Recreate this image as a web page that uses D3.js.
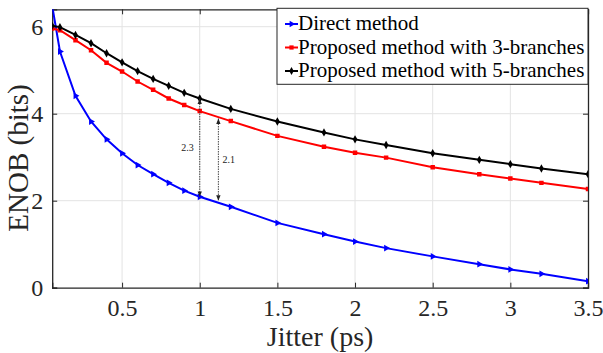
<!DOCTYPE html>
<html>
<head>
<meta charset="utf-8">
<script src="https://cdn.jsdelivr.net/npm/d3@7"></script>
<style>
  body { margin: 0; background: #fff; }
  text { font-family: "Liberation Serif", "Times New Roman", serif; }
</style>
</head>
<body>
<script>
// jitter values (ps)
var jitter = [0.05, 0.1, 0.2, 0.3, 0.4, 0.5, 0.6, 0.7, 0.8, 0.9, 1.0,
              1.2, 1.5, 1.8, 2.0, 2.2, 2.5, 2.8, 3.0, 3.2, 3.5];
var direct   = [6.48, 5.43, 4.41, 3.82, 3.41, 3.09, 2.82, 2.61, 2.41, 2.23, 2.09,
                1.86, 1.49, 1.23, 1.06, 0.91, 0.72, 0.54, 0.42, 0.32, 0.15];
var branch3  = [5.96, 5.92, 5.69, 5.46, 5.17, 4.97, 4.74, 4.55, 4.35, 4.20, 4.06,
                3.83, 3.49, 3.24, 3.10, 2.99, 2.77, 2.61, 2.51, 2.41, 2.27];
var branch5  = [6.02, 5.99, 5.81, 5.62, 5.39, 5.18, 4.98, 4.80, 4.64, 4.48, 4.35,
                4.11, 3.82, 3.57, 3.41, 3.28, 3.09, 2.94, 2.84, 2.74, 2.61];
var seriesNames = ["Direct method", "Proposed method with 3-branches", "Proposed method with 5-branches"];
var xTicks = [0.5, 1, 1.5, 2, 2.5, 3, 3.5];
var yTicks = [0, 2, 4, 6];
// gap annotations: [x, top, bottom, label]
var gaps = [[1.0, 4.35, 2.09, "2.3"], [1.12, 3.89, 2.0, "2.1"]];

var w = 603, h = 353;
var pl = 52.2, pr = 588, pt = 9.3, pb = 287.7;

var svg = d3.select("body").append("svg")
  .attr("width", w)
  .attr("height", h);

var x = d3.scaleLinear().domain([0.05, 3.5]).range([pl, pr]);
var y = d3.scaleLinear().domain([0, 6.4]).range([pb, pt]);

/* ===== GRID ===== */
svg.append("g").selectAll("line")
  .data(xTicks.filter(function(d){ return d < 3.5; }))
  .enter().append("line")
  .attr("x1", function(d){ return x(d); }).attr("x2", function(d){ return x(d); })
  .attr("y1", pt).attr("y2", pb)
  .attr("stroke", "#e3e3e3").attr("stroke-width", 1);
svg.append("g").selectAll("line")
  .data(yTicks.filter(function(d){ return d > 0; }))
  .enter().append("line")
  .attr("x1", pl).attr("x2", pr)
  .attr("y1", function(d){ return y(d); }).attr("y2", function(d){ return y(d); })
  .attr("stroke", "#e3e3e3").attr("stroke-width", 1);

/* ===== AXES ===== */
var axisColor = "#262626";
var plain = function(d){ return d; };
var xAxis = d3.axisBottom(x).tickValues(xTicks).tickSize(-5).tickPadding(11)
  .tickFormat(plain);
var yAxis = d3.axisLeft(y).tickValues(yTicks).tickSize(-5).tickPadding(9)
  .tickFormat(plain);

function styleAxis(g) {
  g.select(".domain").attr("stroke", axisColor).attr("stroke-width", 1.3);
  g.selectAll(".tick line").attr("stroke", axisColor).attr("stroke-width", 1);
  g.selectAll(".tick text").attr("fill", "#262626")
    .attr("font-size", "24px")
    .style("font-family", '"Liberation Serif", "Times New Roman", serif');
}

svg.append("g").attr("transform", "translate(0," + pb + ")")
  .call(xAxis).call(styleAxis);
svg.append("g").attr("transform", "translate(" + pl + ",0)")
  .call(yAxis).call(styleAxis);
// top and right box with inward ticks
svg.append("g").attr("transform", "translate(0," + pt + ")")
  .call(d3.axisTop(x).tickValues(xTicks).tickSize(-5).tickFormat(""))
  .call(styleAxis);
svg.append("g").attr("transform", "translate(" + pr + ",0)")
  .call(d3.axisRight(y).tickValues(yTicks).tickSize(-5).tickFormat(""))
  .call(styleAxis);

/* ===== AXIS LABELS ===== */
svg.append("text")
  .attr("x", (pl + pr) / 2)
  .attr("y", 346)
  .attr("text-anchor", "middle")
  .attr("font-size", "28px")
  .attr("fill", "#262626")
  .text("Jitter (ps)");

svg.append("text")
  .attr("transform", "translate(28,158) rotate(-90)")
  .attr("text-anchor", "middle")
  .attr("font-size", "29px")
  .attr("fill", "#262626")
  .text("ENOB (bits)");

/* ===== LINES ===== */
svg.append("clipPath").attr("id", "plotclip")
  .append("rect").attr("x", pl).attr("y", pt)
  .attr("width", pr - pl).attr("height", pb - pt);

var series = [
  { name: seriesNames[0], values: direct,  color: "#0000ff", sym: d3.symbolTriangle, rot: 90 },
  { name: seriesNames[1], values: branch3, color: "#ff0000", sym: d3.symbolSquare,   rot: 0 },
  { name: seriesNames[2], values: branch5, color: "#000000", sym: d3.symbolDiamond,  rot: 0 }
];

var line = d3.line()
  .x(function(d){ return x(d[0]); })
  .y(function(d){ return y(d[1]); });

var plot = svg.append("g").attr("clip-path", "url(#plotclip)");

series.forEach(function(s) {
  var pts = jitter.map(function(j, i){ return [j, s.values[i]]; });
  plot.append("path")
    .datum(pts)
    .attr("fill", "none")
    .attr("stroke", s.color)
    .attr("stroke-width", 2)
    .attr("d", line);
  plot.selectAll(null)
    .data(pts)
    .enter().append("path")
    .attr("d", d3.symbol().type(s.sym).size(20))
    .attr("transform", function(d){
      return "translate(" + x(d[0]) + "," + y(d[1]) + ") rotate(" + s.rot + ")";
    })
    .attr("fill", s.color);
});

/* ===== GAP ANNOTATIONS ===== */
var defs = svg.append("defs");
defs.append("marker").attr("id", "arr")
  .attr("viewBox", "0 0 10 10").attr("refX", 10).attr("refY", 5)
  .attr("markerWidth", 6).attr("markerHeight", 6)
  .attr("orient", "auto-start-reverse")
  .append("path").attr("d", "M0,1 L10,5 L0,9 Z").attr("fill", "#222");

var gapG = svg.append("g");
gaps.forEach(function(g, i) {
  gapG.append("line")
    .attr("x1", x(g[0])).attr("x2", x(g[0]))
    .attr("y1", y(g[1])).attr("y2", y(g[2]))
    .attr("stroke", "#333").attr("stroke-width", 0.9)
    .attr("stroke-dasharray", "1.5,1")
    .attr("marker-start", "url(#arr)")
    .attr("marker-end", "url(#arr)");
  gapG.append("text")
    .attr("x", i === 0 ? x(g[0]) - 6 : x(g[0]) + 4)
    .attr("y", y((g[1] + g[2]) / 2) + 3)
    .attr("text-anchor", i === 0 ? "end" : "start")
    .attr("font-size", "10px")
    .attr("fill", "#222")
    .text(g[3]);
});

/* ===== LEGEND ===== */
var legX = 277, legY = pt - 1, legW = pr - legX, legH = 76;
var legend = svg.append("g");
legend.append("rect")
  .attr("x", legX).attr("y", legY)
  .attr("width", legW).attr("height", legH)
  .attr("fill", "#fff")
  .attr("stroke", "#262626").attr("stroke-width", 1);

series.forEach(function(s, i) {
  var cy = 24 + i * 23.5;
  legend.append("line")
    .attr("x1", legX + 8).attr("x2", legX + 21)
    .attr("y1", cy).attr("y2", cy)
    .attr("stroke", s.color).attr("stroke-width", 2);
  legend.append("path")
    .attr("d", d3.symbol().type(s.sym).size(18))
    .attr("transform", "translate(" + (legX + 14.5) + "," + cy + ") rotate(" + s.rot + ")")
    .attr("fill", s.color);
  legend.append("text")
    .attr("x", legX + 21)
    .attr("y", cy + 6)
    .attr("font-size", "21px")
    .attr("fill", "#000")
    .text(s.name);
});
</script>
</body>
</html>
